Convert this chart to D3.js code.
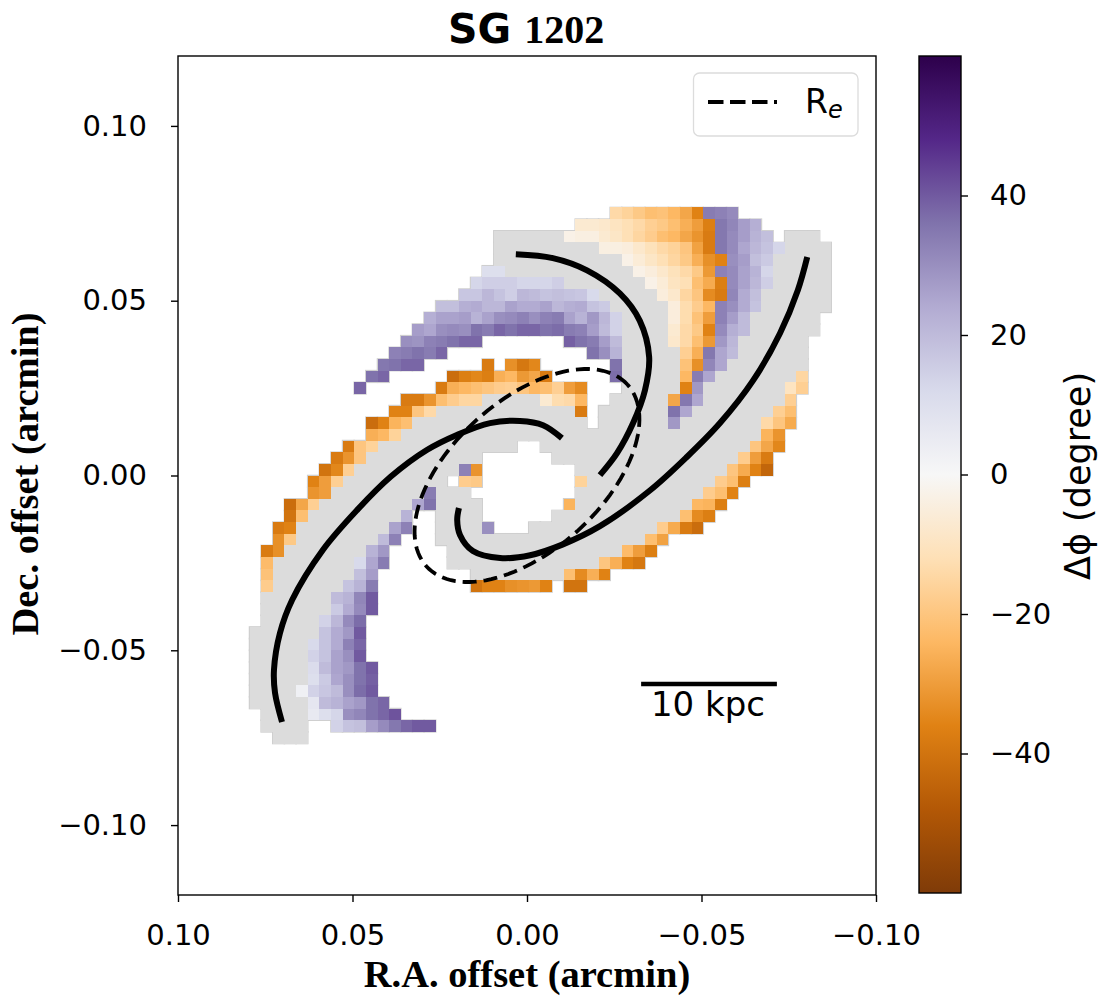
<!DOCTYPE html>
<html><head><meta charset="utf-8">
<script src="https://cdn.jsdelivr.net/npm/d3@7/dist/d3.min.js"></script>
<style>html,body{margin:0;padding:0;background:#fff}svg{display:block}</style>
</head><body><svg id="c" width="1109" height="996"></svg>
<script>
const titleBold = "SG";
const titleNum = "1202";
const xLabel = "R.A. offset (arcmin)";
const yLabel = "Dec. offset (arcmin)";
const cbLabel = "Δϕ (degree)";
const xTicks = [0.10, 0.05, 0, -0.05, -0.10];
const yTicks = [0.10, 0.05, 0, -0.05, -0.10];
const cbTicks = [40, 20, 0, -20, -40];
const cellSize = 0.2 / 60;   // one 0.2 arcsec pixel, in arcmin
const colShift = 0.15;       // pixel grid offset in columns

// masked (grey) pixels: [row, firstCol, lastCol]
const maskRuns = [
[21,-3,2],[21,22,24],[20,-3,5],[20,22,25],[19,-3,7],[19,21,25],[18,-2,8],[18,21,25],
[17,3,9],[17,21,25],[16,6,10],[16,20,25],[15,7,11],[15,20,25],[14,8,11],[14,19,24],
[13,8,11],[13,19,24],[12,8,11],[12,18,23],[11,8,12],[11,18,23],[10,8,12],[10,17,23],
[9,8,12],[9,16,22],[8,8,12],[8,15,21],[7,-4,0],[7,7,11],[7,15,21],[6,-8,3],[6,6,11],[6,14,20],
[5,-10,4],[5,6,11],[5,13,19],[4,-11,19],[3,-13,-2],[3,1,18],[2,-14,-5],[2,2,17],
[1,-15,-7],[1,4,16],[0,-16,-8],[0,5,15],[-1,-17,-10],[-1,-8,-6],[-1,4,14],
[-2,-18,-11],[-2,-8,-5],[-2,4,13],[-3,-19,-12],[-3,-8,-5],[-3,2,12],
[-4,-20,-13],[-4,-8,-5],[-4,0,10],[-5,-20,-14],[-5,-8,9],[-6,-21,-15],[-6,-7,7],
[-7,-22,-16],[-7,-7,5],[-8,-22,-16],[-8,-5,2],[-9,-22,-17],[-10,-23,-18],[-11,-23,-18],
[-12,-23,-19],[-13,-24,-19],[-14,-24,-20],[-15,-24,-20],[-16,-24,-20],[-17,-24,-20],
[-18,-24,-21],[-19,-24,-20],[-20,-23,-20],[-21,-23,-20],[-22,-22,-20]
];

// colour pixels, upper-right arm: [row, firstCol, values]
const armNE = [
[23,7,[-14,-16,-19,-22,-21,-24,-28,-36,34,33,31]],
[22,4,[-7,-7,-8,-10,-12,-14,-17,-19,-22,-26,-30,-37,35,32,27,23]],
[21,3,[-3,-4,-4,-7,-9,-12,-15,-18,-22,-24,-28,-32,-38,35,31,27,22,19]],
[20,6,[-4,-4,-5,-8,-11,-14,-16,-20,-29,-38,35,31,25,21,18,13]],
[19,8,[-3,-6,-9,-12,-15,-19,-26,-33,-36,30,27,19,16]],
[18,9,[-3,-5,-8,-11,-14,-19,-31,33,31,26,22,13]],
[17,10,[-3,-6,-10,-12,-22,-27,-37,31,26,21,15]],
[16,11,[-5,-8,-15,-20,-34,-38,32,24,19]],
[15,12,[-5,-13,-18,-24,33,30,24,18]],
[14,12,[-5,-13,-21,-30,33,27,20]],
[13,12,[-7,-14,-19,-36,31,23,20]],
[12,12,[-8,-14,-22,-31,28,21]],
[11,13,[-17,-26,35,25,20]],
[10,13,[-21,-33,32,25]],
[9,13,[-24,34,25]],
[8,13,[-36,28]],
[7,12,[-28,35,25]],
[6,12,[36,25]],
[5,12,[28]]
];
// colour pixels, northern purple arc
const arcN = [
[18,-4,[10,10]],
[17,-5,[13,15,15,15,13,13,13,15]],
[16,-6,[17,17,21,18,15,21,20,18,19,18,17,12]],
[15,-8,[19,19,23,24,21,21,26,24,24,26,21,23,24,18,16]],
[14,-9,[23,26,26,27,22,26,30,31,33,30,33,34,26,22,28,21,14]],
[13,-10,[27,25,30,31,30,36,34,38,36,38,38,36,37,34,33,27,20,14]],
[12,-11,[30,29,33,34,36,38,38]],
[12,3,[39,36,34,27,20]],
[11,-12,[33,34,36,34,38]],
[11,5,[36,30,22]],
[10,-13,[35,36,38,38]],
[10,7,[36]],
[9,-14,[36,38]],
[9,7,[37]],
[8,-15,[38]]
];
// colour pixels, western orange arc and inner orange edge
const arcW = [
[10,-4,[-38]],
[10,-2,[-33,-39,-35]],
[9,-7,[-42,-37,-35,-37,-26,-24,-31,-28,-38]],
[8,-8,[-38,-26,-24,-22,-20,-18,-17,-20,-24,-22,-17,-30,-34]],
[7,-11,[-38,-38,-32,-22,-18,-15,-15]],
[7,1,[-7,-13,-14,-24]],
[6,-12,[-36,-36,-20,-14]],
[6,4,[-38]],
[5,-14,[-42,-36,-25,-22]],
[4,-14,[-26,-24,-16]],
[3,-16,[-38,-20,-16]],
[2,-17,[-38,-32,-20]],
[1,-18,[-40,-35,-17]],
[0,-19,[-36,-30,-17]],
[-1,-19,[-32,-30]],
[-2,-21,[-42,-28,-17]],
[-3,-21,[-40,-22]],
[-4,-22,[-38,-36]],
[-5,-22,[-33,-19]],
[-6,-23,[-38,-33]],
[-7,-23,[-23]],
[-8,-23,[-21]],
[-9,-23,[-18]]
];
// colour pixels, south-west purple arm
const armSW = [
[-2,-10,[25,36]],
[-1,-9,[34]],
[-3,-11,[22]],
[-4,-12,[26,33]],
[-5,-13,[20,33]],
[-6,-14,[22,28]],
[-7,-15,[12,25,34]],
[-8,-15,[19,27]],
[-9,-16,[18,22,34]],
[-10,-17,[20,22,32,40]],
[-11,-17,[16,24,31,40]],
[-12,-18,[14,21,31,37]],
[-13,-18,[18,24,28,40]],
[-14,-19,[12,18,24,33,38]],
[-15,-19,[14,18,26,30,40]],
[-16,-19,[11,20,26,28,36,40]],
[-17,-19,[10,16,25,30,36,39]],
[-18,-20,[3,14,17,20,30,37,40]],
[-19,-19,[7,20,22,26,28,36,38]],
[-20,-19,[6,10,13,30,32,36,38,41]],
[-21,-17,[14,18,19,27,31,35,38,40,40]]
];
// colour pixels, south-east orange edge and right tip
const edgeSE = [
[9,23,[-15]],
[8,22,[-10,-17]],
[7,22,[-17]],
[6,21,[-17,-22]],
[5,20,[-14,-20,-27]],
[4,20,[-25,-32]],
[3,19,[-20,-28,-35]],
[2,18,[-18,-30,-38]],
[1,17,[-20,-27,-36,-44]],
[0,16,[-18,-22,-37]],
[-1,15,[-18,-22,-36]],
[-2,14,[-24,-25,-37]],
[-3,13,[-22,-34,-37]],
[-4,11,[-18,-27,-38,-42]],
[-5,10,[-22,-29]],
[-6,8,[-23,-30,-37]],
[-7,6,[-20,-26,-36,-39]],
[-8,3,[-22,-34,-26,-36]],
[-9,-5,[-40,-36,-36,-33,-32,-31,-36]],
[-9,3,[-40,-40]]
];
// colour pixels around the central hole
const hole = [
[1,-6,[33,-32]],
[0,-6,[-18,-19]],
[0,4,[-16]],
[-2,3,[-25]],
[-4,-4,[30]]
];

// spiral arm tracks [R.A., Dec.] in arcmin
const spiralA = [[0.0032,0.0633],[-0.0074,0.0622],[-0.0172,0.0587],[-0.0266,0.0521],[-0.0323,0.0443],[-0.0350,0.0339],[-0.0338,0.0244],[-0.0304,0.0150],[-0.0258,0.0064],[-0.0209,0.0001]];
const spiralB = [[-0.0803,0.0625],[-0.0776,0.0530],[-0.0725,0.0407],[-0.0648,0.0272],[-0.0553,0.0150],[-0.0458,0.0053],[-0.0352,-0.0043],[-0.0209,-0.0145],[-0.0103,-0.0197],[-0.0009,-0.0228],[0.0077,-0.0236],[0.0155,-0.0216],[0.0192,-0.0170],[0.0200,-0.0127],[0.0195,-0.0093]];
const spiralC = [[0.0702,-0.0705],[0.0722,-0.0622],[0.0725,-0.0556],[0.0708,-0.0451],[0.0673,-0.0356],[0.0585,-0.0213],[0.0487,-0.0099],[0.0390,-0.0003],[0.0287,0.0073],[0.0201,0.0116],[0.0106,0.0150],[0.0020,0.0156],[-0.0046,0.0144],[-0.0100,0.0107]];

const reEllipse = {a:0.0388, b:0.02147, angle:42};
const scaleBarArc = [-0.0327,-0.0716];
const scaleBarText = "10 kpc";
const legendText = "R";
const legendSub = "e";

const plot={l:178,r:876,t:56,b:895};
const x=d3.scaleLinear().domain([0.10,-0.10]).range([plot.l,plot.r]);
const y=d3.scaleLinear().domain([-0.12,0.12]).range([plot.b,plot.t]);
const cbStops=d3.schemePuOr[11].slice().reverse();  // brown at -60, deep purple at +60
const colour=d3.scaleSequential().domain([-60,60]).interpolator(d3.piecewise(d3.interpolateRgb,cbStops));
const svg=d3.select("#c");
const fmtTick=d=>{const s=Math.abs(d).toFixed(2);return (d<0?"\u2212":"")+s;};
const SANS="'DejaVu Sans',sans-serif",SERIF="'Liberation Serif',serif";

const clipId="plotClip";
svg.append("defs").append("clipPath").attr("id",clipId).append("rect")
 .attr("x",plot.l).attr("y",plot.t).attr("width",plot.r-plot.l).attr("height",plot.b-plot.t);
const g=svg.append("g").attr("clip-path",`url(#${clipId})`);

// pixel grid
const cellRect=(i,j)=>{
  const x0=x(-(i+colShift)*cellSize),x1=x(-(i+1+colShift)*cellSize);
  const y0=y((j)*cellSize),y1=y((j-1)*cellSize);
  return {x:x0,y:y0,w:x1-x0,h:y1-y0};
};
const colourRows=[...armNE,...arcN,...arcW,...armSW,...edgeSE,...hole];
const colourCells=colourRows.flatMap(([j,i0,vals])=>vals.map((v,k)=>({i:i0+k,j,v})));
const maskCells=maskRuns.flatMap(([j,a,b])=>d3.range(a,b+1).map(i=>({i,j})));
const allCells=[...maskCells,...colourCells];

g.append("g").selectAll("rect").data(allCells).join("rect")
 .each(function(d){const r=cellRect(d.i,d.j);d3.select(this).attr("x",r.x-0.8).attr("y",r.y-0.8).attr("width",r.w+1.6).attr("height",r.h+1.6);})
 .attr("fill","#cfcfcf");
g.append("g").attr("shape-rendering","crispEdges").selectAll("rect").data(maskCells).join("rect")
 .each(function(d){const r=cellRect(d.i,d.j);d3.select(this).attr("x",r.x).attr("y",r.y).attr("width",r.w).attr("height",r.h);})
 .attr("fill","#dcdcdc");
g.append("g").attr("shape-rendering","crispEdges").selectAll("rect").data(colourCells).join("rect")
 .each(function(d){const r=cellRect(d.i,d.j);d3.select(this).attr("x",r.x).attr("y",r.y).attr("width",r.w).attr("height",r.h);})
 .attr("fill",d=>colour(d.v));

// spiral arms
const line=d3.line().x(d=>x(d[0])).y(d=>y(d[1])).curve(d3.curveCatmullRom.alpha(0.5));
[spiralA,spiralB,spiralC].forEach(s=>g.append("path").attr("d",line(s)).attr("fill","none").attr("stroke","#000").attr("stroke-width",6));

// effective radius ellipse
const th=reEllipse.angle*Math.PI/180;
const ell=d3.range(0,361,3).map(t=>{const a=t*Math.PI/180;
  const u=reEllipse.a*Math.cos(a),v=reEllipse.b*Math.sin(a);
  return [-(u*Math.cos(th)-v*Math.sin(th)),u*Math.sin(th)+v*Math.cos(th)];});
g.append("path").attr("d",d3.line().x(d=>x(d[0])).y(d=>y(d[1]))(ell)).attr("fill","none").attr("stroke","#000")
 .attr("stroke-width",3.8).attr("stroke-dasharray","14,7");

// scale bar
const barY=684;
svg.append("line").attr("x1",x(scaleBarArc[0])).attr("x2",x(scaleBarArc[1])).attr("y1",barY).attr("y2",barY).attr("stroke","#000").attr("stroke-width",4.5);
svg.append("text").attr("x",708).attr("y",716).attr("text-anchor","middle").attr("font-family",SANS).attr("font-size",34).text(scaleBarText);

// axes
const axisStyle=(a)=>{a.select(".domain").remove();a.selectAll("line").attr("stroke","#000").attr("stroke-width",1.4);
  a.selectAll("text").attr("font-family",SANS).attr("font-size",29).attr("fill","#000");};
svg.append("g").attr("transform",`translate(0,${plot.b})`).call(d3.axisBottom(x).tickValues(xTicks).tickFormat(fmtTick).tickSize(7).tickPadding(22)).call(axisStyle);
svg.append("g").attr("transform",`translate(${plot.l},0)`).call(d3.axisLeft(y).tickValues(yTicks).tickFormat(fmtTick).tickSize(7).tickPadding(24)).call(axisStyle);
svg.append("rect").attr("x",plot.l).attr("y",plot.t).attr("width",plot.r-plot.l).attr("height",plot.b-plot.t).attr("fill","none").attr("stroke","#000").attr("stroke-width",1.4);

// title & labels
const title=svg.append("text").attr("x",448).attr("y",43).attr("text-anchor","start");
title.append("tspan").attr("font-family",SANS).attr("font-weight","bold").attr("font-size",41).text(titleBold);
title.append("tspan").attr("font-family",SERIF).attr("font-weight","bold").attr("font-size",40).attr("dx",13).text(titleNum);
svg.append("text").attr("x",527).attr("y",987).attr("text-anchor","middle").attr("font-family",SERIF).attr("font-weight","bold").attr("font-size",38.5).text(xLabel);
svg.append("text").attr("transform","translate(38,474) rotate(-90)").attr("text-anchor","middle").attr("font-family",SERIF).attr("font-weight","bold").attr("font-size",38.5).text(yLabel);

// legend
const lg=svg.append("g");
lg.append("rect").attr("x",693.5).attr("y",73).attr("width",164.5).attr("height",63).attr("rx",6).attr("fill","#fff").attr("fill-opacity",0.8).attr("stroke","#dcdcdc").attr("stroke-width",1.3);
lg.append("line").attr("x1",708).attr("x2",777).attr("y1",102).attr("y2",102).attr("stroke","#000").attr("stroke-width",4).attr("stroke-dasharray","15.5,6.5");
const lt=lg.append("text").attr("x",805).attr("y",113).attr("font-family",SANS).attr("font-size",33);
lt.append("tspan").text(legendText);
lt.append("tspan").attr("font-size",24).attr("font-style","italic").attr("dy",5).text(legendSub);

// colour bar
const cb={l:919,r:961,t:56,b:893};
const cy=d3.scaleLinear().domain([-60,60]).range([cb.b,cb.t]);
const grad=svg.select("defs").append("linearGradient").attr("id","cbGrad").attr("x1",0).attr("x2",0).attr("y1",1).attr("y2",0);
cbStops.forEach((c,k)=>{grad.append("stop").attr("offset",k/(cbStops.length-1)).attr("stop-color",c);});
svg.append("rect").attr("x",cb.l).attr("y",cb.t).attr("width",cb.r-cb.l).attr("height",cb.b-cb.t).attr("fill","url(#cbGrad)").attr("stroke","#000").attr("stroke-width",1.4);
svg.append("g").attr("transform",`translate(${cb.r},0)`).call(d3.axisRight(cy).tickValues(cbTicks).tickFormat(d=>(d<0?"\u2212":"")+Math.abs(d)).tickSize(7).tickPadding(22)).call(axisStyle);
svg.append("text").attr("transform","translate(1090,476) rotate(-90)").attr("text-anchor","middle").attr("font-family",SANS).attr("font-size",35).text(cbLabel);
</script></body></html>
